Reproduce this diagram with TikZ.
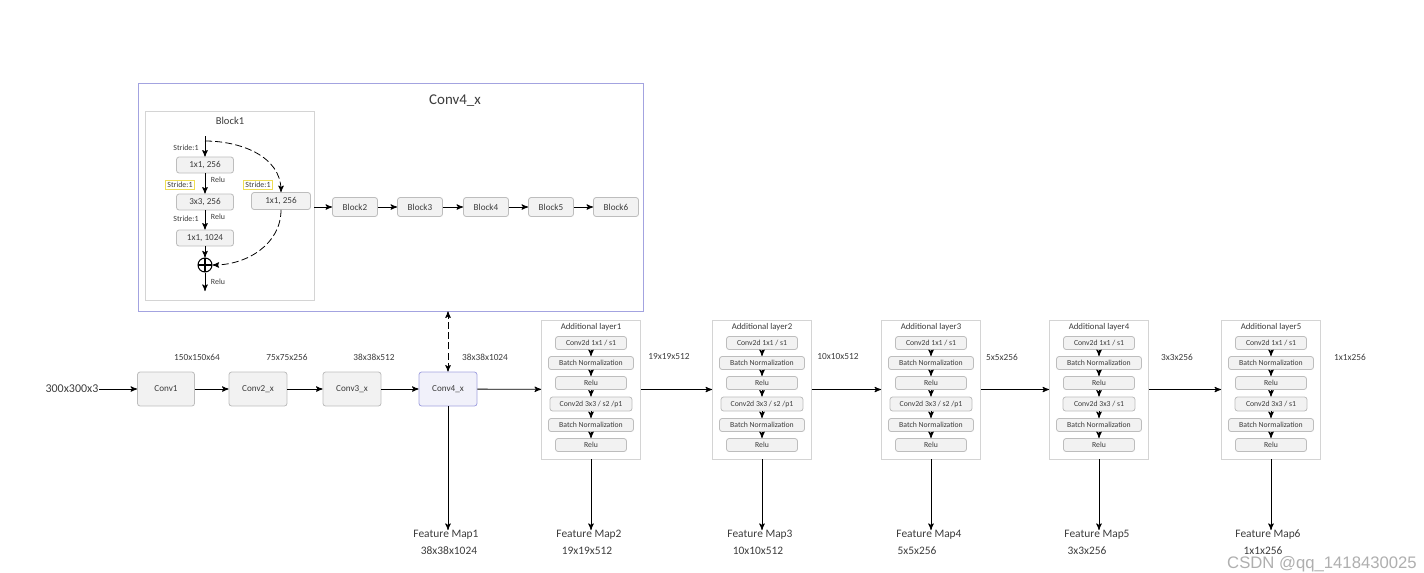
\documentclass[tikz,border=0pt]{standalone}
\usepackage{fontspec}
\setmainfont{Carlito}
\newfontfamily\wmfont{Liberation Sans}
\usetikzlibrary{arrows,fit,positioning,calc}

\definecolor{boxfill}{HTML}{F2F2F2}
\definecolor{boxline}{HTML}{BDBDBD}
\definecolor{framegray}{HTML}{D4D4D4}
\definecolor{lavline}{HTML}{A3A3E0}
\definecolor{lavfill}{HTML}{F1F1FA}
\definecolor{strideyel}{HTML}{EEDD55}
\definecolor{txt}{HTML}{3C3C3C}

\newcommand{\convsa}{Conv2d 3x3 / s2 /p1}
\newcommand{\convsb}{Conv2d 3x3 / s1}

\begin{document}
\begin{tikzpicture}[x=0.02cm,y=-0.02cm,->,>=stealth',line width=0.45pt,text=txt,
    sz/.style 2 args={minimum width=#1*0.02cm,minimum height=#2*0.02cm}]

    \tikzstyle{box}=[draw=boxline,fill=boxfill,rounded corners=1.5pt,inner sep=0pt,font=\fontsize{5.2}{6}\selectfont]
    \tikzstyle{lbox}=[box,font=\fontsize{4.4}{5}\selectfont]
    \tikzstyle{frame}=[draw=framegray,fill=white,inner sep=0pt]
    \tikzstyle{lbl}=[inner sep=0pt,font=\fontsize{5.3}{6}\selectfont]
    \tikzstyle{tiny}=[inner sep=0pt,font=\fontsize{4.5}{5}\selectfont]
    \tikzstyle{stride}=[tiny,draw=strideyel,inner xsep=1pt,inner ysep=1.2pt]
    \tikzstyle{skip}=[dash pattern=on 4pt off 1.8pt]

    \useasboundingbox (0,0) rectangle (1424,572);

    % Conv4_x detail
    \node[draw=lavline,fill=white,inner sep=0pt,fit={(138,83) (643,311)}] (conv4frame) {};
    \node[inner sep=0pt,font=\fontsize{8.5}{10}\selectfont] (conv4title) at (455,101) {Conv4\_x};
    \node[frame,fit={(145,111) (314,300)}] (block1) {};
    \node[inner sep=0pt,font=\fontsize{6}{7}\selectfont] (block1title) at (230,121) {Block1};

    \coordinate (b1in) at (205,136);
    \coordinate (b1split) at (205,141);
    \node[box,sz={57}{16}] (b1a) at (205,165) {1x1, 256};
    \node[box,sz={57}{16}] (b1b) at (205,202) {3x3, 256};
    \node[box,sz={57}{16}] (b1c) at (205,238) {1x1, 1024};
    \node[circle,draw,line width=0.6pt,minimum size=0.28cm,inner sep=0pt,
          path picture={\draw[-,line width=0.6pt] (path picture bounding box.north) -- (path picture bounding box.south)
                        (path picture bounding box.west) -- (path picture bounding box.east);}] (add) at (205,265) {};
    \coordinate (b1out) at (205,291);
    \node[box,sz={59}{17}] (b1s) at (281,201) {1x1, 256};

    \node[tiny] (s1) at (186,148) {Stride:1};
    \node[stride] (s2) at (180,185) {Stride:1};
    \node[tiny] (s3) at (186,219) {Stride:1};
    \node[stride] (s4) at (258,185) {Stride:1};
    \node[tiny] (r1) at (218,180) {Relu};
    \node[tiny] (r2) at (218,217) {Relu};
    \node[tiny] (r3) at (218,282) {Relu};

    \draw (b1in) -- (b1a);
    \draw (b1a) -- (b1b);
    \draw (b1b) -- (b1c);
    \draw (b1c) -- (add);
    \draw (add) -- (b1out);
    \draw[skip] (b1split) to[out=0,in=90] (b1s.north);
    \draw[skip] (b1s.south) to[out=-90,in=0] (add.east);

    \foreach \n/\cx in {2/355,3/420,4/486,5/551,6/616}
        \node[box,sz={45}{19}] (blk\n) at (\cx,207) {Block\n};
    \draw (blk2 -| block1.east) -- (blk2);
    \draw (blk2) -- (blk3);
    \draw (blk3) -- (blk4);
    \draw (blk4) -- (blk5);
    \draw (blk5) -- (blk6);

    % backbone
    \node[inner sep=0pt,font=\fontsize{6.8}{8}\selectfont] (inp) at (72,389) {300x300x3};
    \node[box,sz={57}{34}] (conv1) at (166,389) {Conv1};
    \node[box,sz={58}{34}] (conv2) at (258,389) {Conv2\_x};
    \node[box,sz={58}{34}] (conv3) at (352,389) {Conv3\_x};
    \node[box,draw=lavline,fill=lavfill,sz={58}{34}] (conv4) at (448,389) {Conv4\_x};

    \node[lbl] (d1) at (197,357) {150x150x64};
    \node[lbl] (d2) at (287,357) {75x75x256};
    \node[lbl] (d3) at (374,357) {38x38x512};
    \node[lbl] (d4) at (485,357) {38x38x1024};

    \draw (inp) -- (conv1);
    \draw (conv1) -- (conv2);
    \draw (conv2) -- (conv3);
    \draw (conv3) -- (conv4);
    \draw[<->,skip] (conv4.north) -- (conv4.north |- conv4frame.south);

    % additional layers
    \foreach \i/\cx/\conv/\w in {1/591/\convsa/82,2/762/\convsa/82,3/931/\convsa/82,4/1099/\convsb/72,5/1271/\convsb/72} {
        \node[frame,fit={({\cx-49.5},320) ({\cx+49.5},459)}] (l\i) {};
        \node[inner sep=0pt,font=\fontsize{5}{6}\selectfont] (l\i-t) at (\cx,327) {Additional layer\i};
        \node[lbox,sz={71}{13}] (l\i-1) at (\cx,343) {Conv2d 1x1 / s1};
        \node[lbox,sz={85}{13}] (l\i-2) at (\cx,363) {Batch Normalization};
        \node[lbox,sz={71}{13}] (l\i-3) at (\cx,383) {Relu};
        \node[lbox,sz={\w}{14}] (l\i-4) at (\cx,404) {\conv};
        \node[lbox,sz={85}{13}] (l\i-5) at (\cx,425) {Batch Normalization};
        \node[lbox,sz={71}{13}] (l\i-6) at (\cx,445) {Relu};
        \draw (l\i-1) -- (l\i-2);
        \draw (l\i-2) -- (l\i-3);
        \draw (l\i-3) -- (l\i-4);
        \draw (l\i-4) -- (l\i-5);
        \draw (l\i-5) -- (l\i-6);
    }
    \draw (conv4) -- (l1);
    \draw (l1) -- (l2);
    \draw (l2) -- (l3);
    \draw (l3) -- (l4);
    \draw (l4) -- (l5);

    \node[lbl] (d5) at (669,357) {19x19x512};
    \node[lbl] (d6) at (838,357) {10x10x512};
    \node[lbl] (d7) at (1002,357) {5x5x256};
    \node[lbl] (d8) at (1177,357) {3x3x256};
    \node[lbl] (d9) at (1350,357) {1x1x256};

    % feature maps
    \tikzstyle{fm}=[inner sep=0pt,font=\fontsize{6.5}{8}\selectfont]
    \node[fm] (fm1) at (446,535) {Feature Map1};
    \node[fm] (fm2) at (589,535) {Feature Map2};
    \node[fm] (fm3) at (760,535) {Feature Map3};
    \node[fm] (fm4) at (929,535) {Feature Map4};
    \node[fm] (fm5) at (1097,535) {Feature Map5};
    \node[fm] (fm6) at (1268,535) {Feature Map6};
    \node[fm] (fs1) at (449,551) {38x38x1024};
    \node[fm] (fs2) at (587,551) {19x19x512};
    \node[fm] (fs3) at (758,551) {10x10x512};
    \node[fm] (fs4) at (917,551) {5x5x256};
    \node[fm] (fs5) at (1087,551) {3x3x256};
    \node[fm] (fs6) at (1263,551) {1x1x256};

    \draw (conv4.south) -- (conv4.south |- fm1.north);
    \foreach \i in {1,...,5}
        \draw (l\i.south) -- (l\i.south |- fm1.north);

    \node[inner sep=0pt,text=gray!70,opacity=0.9,font=\wmfont\fontsize{9.5}{11}\selectfont] (wm) at (1322,564) {CSDN @qq\_1418430025};
\end{tikzpicture}
\end{document}
